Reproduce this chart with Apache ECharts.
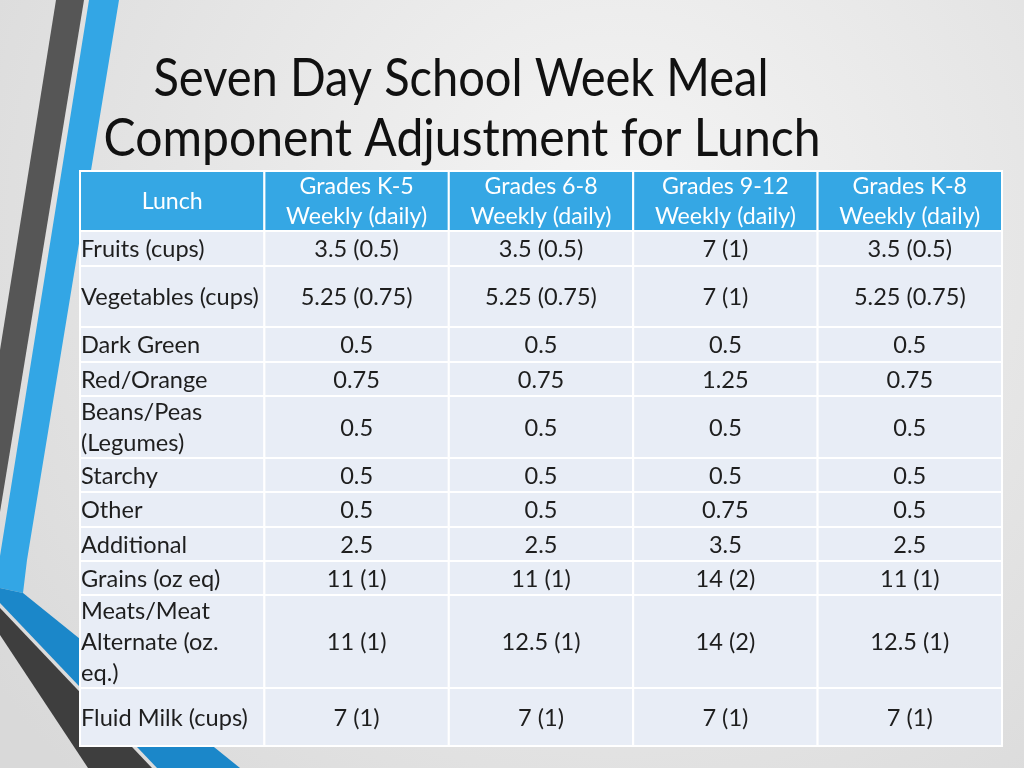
<!DOCTYPE html>
<html>
<head>
<meta charset="utf-8">
<script src="https://cdn.jsdelivr.net/npm/echarts@6/dist/echarts.min.js"></script>
<style>html,body{margin:0;padding:0;}#chart{width:1024px;height:768px;}</style>
</head>
<body>
<div id="chart"></div>
<script>
// ---- data ----
const titleLines = ['Seven Day School Week Meal', 'Component Adjustment for Lunch'];
const firstHeader = 'Lunch';
const columnHeaders = ['Grades K-5\nWeekly (daily)', 'Grades 6-8\nWeekly (daily)', 'Grades 9-12\nWeekly (daily)', 'Grades K-8\nWeekly (daily)'];
const rowLabels = ['Fruits (cups)', 'Vegetables (cups)', 'Dark Green', 'Red/Orange', 'Beans/Peas\n(Legumes)', 'Starchy', 'Other', 'Additional', 'Grains (oz eq)', 'Meats/Meat\nAlternate (oz.\neq.)', 'Fluid Milk (cups)'];
const gradesK5  = ['3.5 (0.5)', '5.25 (0.75)', '0.5', '0.75', '0.5', '0.5', '0.5', '2.5', '11 (1)', '11 (1)', '7 (1)'];
const grades6to8 = ['3.5 (0.5)', '5.25 (0.75)', '0.5', '0.75', '0.5', '0.5', '0.5', '2.5', '11 (1)', '12.5 (1)', '7 (1)'];
const grades9to12 = ['7 (1)', '7 (1)', '0.5', '1.25', '0.5', '0.5', '0.75', '3.5', '14 (2)', '14 (2)', '7 (1)'];
const gradesK8  = ['3.5 (0.5)', '5.25 (0.75)', '0.5', '0.75', '0.5', '0.5', '0.5', '2.5', '11 (1)', '12.5 (1)', '7 (1)'];

// ---- layout (not data) ----
const rowHeights = [60, 35, 61, 35, 34, 62, 34, 35, 34, 34, 93, 58];

const table = [[firstHeader].concat(columnHeaders)].concat(
  rowLabels.map((l, i) => [l, gradesK5[i], grades6to8[i], grades9to12[i], gradesK8[i]])
);
const rowStarts = [];
let acc = 0;
rowHeights.forEach(h => { rowStarts.push(acc); acc += h; });
const totalHeight = acc;

const cellData = [];
table.forEach((row, r) => row.forEach((t, c) => cellData.push([c, r])));

// font sizing helpers
const mctx = document.createElement('canvas').getContext('2d');
function tw(text, font) { mctx.font = font; return mctx.measureText(text).width; }
const FONT = 'Lato';
const bodySize = 25 * 178 / tw('Vegetables (cups)', '400 25px ' + FONT);
const headSize = 25 * 141 / tw('Weekly (daily)', '400 25px ' + FONT);
const titleFont = '400 53px ' + FONT;
const titleScale1 = 615 / tw(titleLines[0], titleFont);
const titleScale2 = 717 / tw(titleLines[1], titleFont);

const chart = echarts.init(document.getElementById('chart'), null, { renderer: 'canvas' });

function renderCell(params, api) {
  const c = api.value(0), r = api.value(1);
  const y0 = rowStarts[r], y1 = y0 + rowHeights[r];
  const p0 = api.coord([c, y0]);
  const p1 = api.coord([c + 1, y1]);
  const isHead = r === 0;
  const text = table[r][c];
  const leftAlign = !isHead && c === 0;
  return {
    type: 'group',
    children: [
      {
        type: 'rect',
        shape: { x: p0[0], y: p0[1], width: p1[0] - p0[0], height: p1[1] - p0[1] },
        style: { fill: isHead ? '#35a7e4' : '#e8edf6', stroke: '#ffffff', lineWidth: 2 }
      },
      {
        type: 'text',
        x: leftAlign ? p0[0] + 1 : (p0[0] + p1[0]) / 2,
        y: (p0[1] + p1[1]) / 2 + 1,
        style: {
          text: text,
          fill: isHead ? '#ffffff' : '#1e1e1e',
          font: '400 ' + (isHead ? headSize : bodySize).toFixed(2) + 'px ' + FONT,
          lineHeight: isHead ? 30 : 31,
          align: leftAlign ? 'left' : 'center',
          verticalAlign: 'middle'
        }
      }
    ]
  };
}

const option = {
  animation: false,
  graphic: [
    { type: 'rect', z: -100, shape: { x: 0, y: 0, width: 1024, height: 768 },
      style: { fill: { type: 'radial', x: 0.6, y: 0.3, r: 1.0,
        colorStops: [{ offset: 0, color: '#f5f5f5' }, { offset: 1, color: '#d9d9d9' }] } } },
    { type: 'polygon', z: -50, shape: { points: [[56, 0], [84, 0], [0, 512], [0, 350]] }, style: { fill: '#565656' } },
    { type: 'polygon', z: -50, shape: { points: [[89, 0], [119, 0], [27, 560], [23, 593], [0, 588], [0, 556]] }, style: { fill: '#33a6e5' } },
    { type: 'polygon', z: -50, shape: { points: [[0, 588], [23, 593], [240, 768], [157, 768], [0, 603]] }, style: { fill: '#1b87c9' } },
    { type: 'polygon', z: -50, shape: { points: [[0, 608], [152, 768], [88, 768], [0, 635]] }, style: { fill: '#3e3e3e' } },
    { type: 'text', x: 461, y: 79, scaleX: titleScale1,
      style: { text: titleLines[0], font: titleFont, fill: '#111111', align: 'center', verticalAlign: 'middle' } },
    { type: 'text', x: 462, y: 139, scaleX: titleScale2,
      style: { text: titleLines[1], font: titleFont, fill: '#111111', align: 'center', verticalAlign: 'middle' } }
  ],
  grid: { left: 80, top: 171, width: 922, height: 575, containLabel: false },
  xAxis: { type: 'value', min: 0, max: 5, show: false },
  yAxis: { type: 'value', min: 0, max: totalHeight, inverse: true, show: false },
  series: [{
    type: 'custom',
    coordinateSystem: 'cartesian2d',
    renderItem: renderCell,
    data: cellData,
    encode: { x: 0, y: 1 },
    clip: false,
    silent: true
  }]
};
chart.setOption(option);
</script>
</body>
</html>
